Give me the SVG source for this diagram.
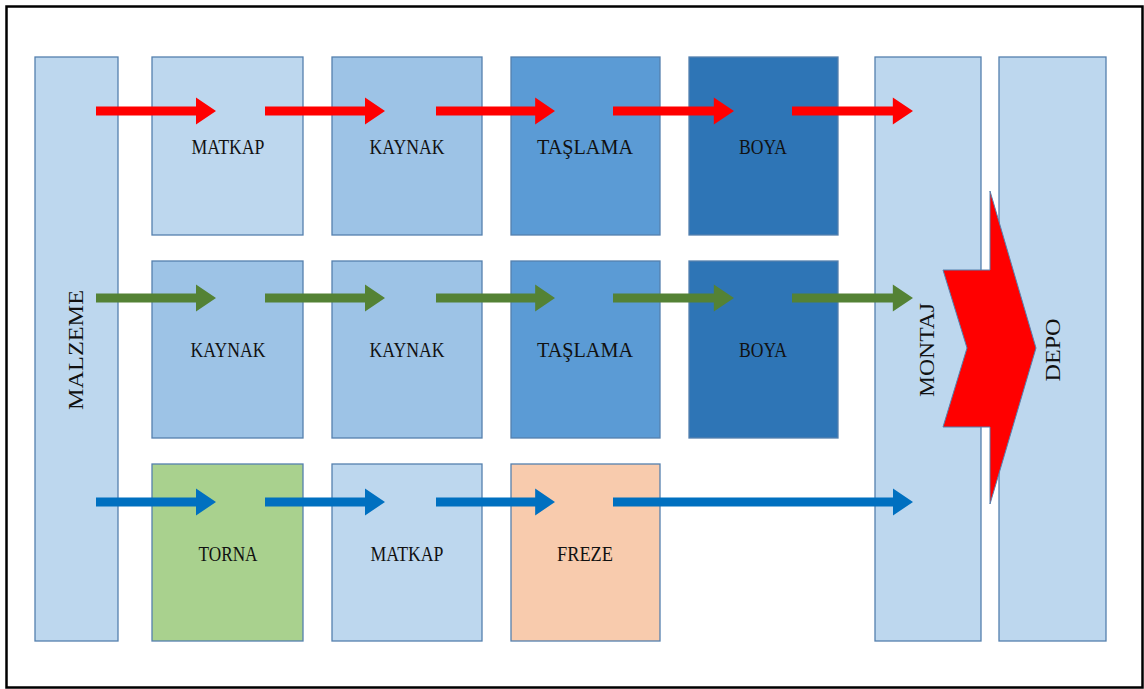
<svg xmlns="http://www.w3.org/2000/svg" width="1144" height="689" viewBox="0 0 1144 689">
<defs>
<style>
.box{stroke:#5580AE;stroke-width:1.3}
.lt{fill:#BDD7EE}.md{fill:#9DC3E6}.ds{fill:#5B9BD5}.dk{fill:#2E75B6}.gr{fill:#A9D18E}.pc{fill:#F8CBAD}
.lbl{font-family:"Liberation Serif","Times New Roman",serif;font-size:21px;fill:#111;text-anchor:middle}
</style>
<path id="ar" d="M0,-4.5 H100 V-13.5 L120,0 L100,13.5 V4.5 H0 Z"/>
</defs>
<rect x="0" y="0" width="1144" height="689" fill="#fff"/>
<rect x="6.5" y="6.5" width="1136" height="681" fill="#fff" stroke="#000" stroke-width="2.5"/>

<g id="malzeme"><rect class="box lt" x="35" y="57" width="83" height="584"/>
<text class="lbl" transform="translate(83,350) rotate(-90)" textLength="120" lengthAdjust="spacingAndGlyphs">MALZEME</text></g>

<g id="r1c1"><rect class="box lt" x="152" y="57" width="151" height="178"/><text class="lbl" x="228" y="154" textLength="73" lengthAdjust="spacingAndGlyphs">MATKAP</text></g>
<g id="r1c2"><rect class="box md" x="332" y="57" width="150" height="178"/><text class="lbl" x="407" y="154" textLength="75" lengthAdjust="spacingAndGlyphs">KAYNAK</text></g>
<g id="r1c3"><rect class="box ds" x="511" y="57" width="149" height="178"/><text class="lbl" x="585" y="154" textLength="96" lengthAdjust="spacingAndGlyphs">TAŞLAMA</text></g>
<g id="r1c4"><rect class="box dk" x="689" y="57" width="149" height="178"/><text class="lbl" x="763" y="154" textLength="48" lengthAdjust="spacingAndGlyphs">BOYA</text></g>

<g id="r2c1"><rect class="box md" x="152" y="261" width="151" height="177"/><text class="lbl" x="228" y="357" textLength="75" lengthAdjust="spacingAndGlyphs">KAYNAK</text></g>
<g id="r2c2"><rect class="box md" x="332" y="261" width="150" height="177"/><text class="lbl" x="407" y="357" textLength="75" lengthAdjust="spacingAndGlyphs">KAYNAK</text></g>
<g id="r2c3"><rect class="box ds" x="511" y="261" width="149" height="177"/><text class="lbl" x="585" y="357" textLength="96" lengthAdjust="spacingAndGlyphs">TAŞLAMA</text></g>
<g id="r2c4"><rect class="box dk" x="689" y="261" width="149" height="177"/><text class="lbl" x="763" y="357" textLength="48" lengthAdjust="spacingAndGlyphs">BOYA</text></g>

<g id="r3c1"><rect class="box gr" x="152" y="464" width="151" height="177"/><text class="lbl" x="228" y="561" textLength="59" lengthAdjust="spacingAndGlyphs">TORNA</text></g>
<g id="r3c2"><rect class="box lt" x="332" y="464" width="150" height="177"/><text class="lbl" x="407" y="561" textLength="73" lengthAdjust="spacingAndGlyphs">MATKAP</text></g>
<g id="r3c3"><rect class="box pc" x="511" y="464" width="149" height="177"/><text class="lbl" x="585" y="561" textLength="56" lengthAdjust="spacingAndGlyphs">FREZE</text></g>

<g id="montaj"><rect class="box lt" x="875" y="57" width="106" height="584"/>
<text class="lbl" transform="translate(934,350) rotate(-90)" textLength="94" lengthAdjust="spacingAndGlyphs">MONTAJ</text></g>
<g id="depo"><rect class="box lt" x="999" y="57" width="107" height="584"/>
<text class="lbl" transform="translate(1060,350) rotate(-90)" textLength="63" lengthAdjust="spacingAndGlyphs">DEPO</text></g>

<g id="connectors">
<g fill="#FF0000">
<use href="#ar" transform="translate(96,111)"/>
<use href="#ar" transform="translate(265,111)"/>
<use href="#ar" transform="translate(436,111) scale(0.9917,1)"/>
<use href="#ar" transform="translate(613,111) scale(1.0083,1)"/>
<use href="#ar" transform="translate(792,111) scale(1.0083,1)"/>
</g>
<g fill="#548235">
<use href="#ar" transform="translate(96,298)"/>
<use href="#ar" transform="translate(265,298)"/>
<use href="#ar" transform="translate(436,298) scale(0.9917,1)"/>
<use href="#ar" transform="translate(613,298) scale(1.0083,1)"/>
<use href="#ar" transform="translate(792,298) scale(1.0083,1)"/>
</g>
<g fill="#0070C0">
<use href="#ar" transform="translate(96,502)"/>
<use href="#ar" transform="translate(265,502)"/>
<use href="#ar" transform="translate(436,502) scale(0.9917,1)"/>
<path d="M613,497.5 H893 V488.5 L913,502 L893,515.5 V506.5 H613 Z"/>
</g>
<path id="big-arrow" d="M990,191 L1036,348 L990,504 V427 H943 L967,348 L943,270 H990 Z" fill="#FF0000" stroke="#5580AE" stroke-width="1"/>
</g>
</svg>
